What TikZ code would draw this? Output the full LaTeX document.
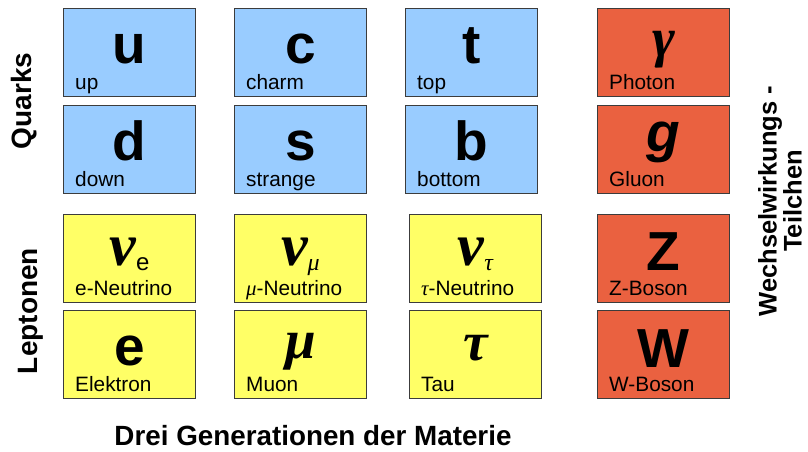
\documentclass[tikz,border=0pt]{standalone}
\usepackage{fontspec}
\setmainfont{Liberation Sans}
\newfontfamily\grfont{Liberation Serif}
\definecolor{quarkblue}{RGB}{153,204,255}
\definecolor{leptonyellow}{RGB}{255,255,102}
\definecolor{bosonred}{RGB}{234,97,64}
\definecolor{boxborder}{RGB}{60,60,60}
\tikzset{
  pbox/.style={draw=boxborder, line width=0.9pt, minimum width=132pt, minimum height=88pt, anchor=north west, inner sep=0pt},
  sym/.style={anchor=base, inner sep=0pt, font=\fontsize{55}{55}\selectfont\bfseries},
  plabel/.style={anchor=base west, inner sep=0pt, font=\fontsize{20.8}{21}\selectfont},
  axislabel/.style={inner sep=0pt, font=\fontsize{28}{30}\selectfont\bfseries}
}
\newcommand\gr[1]{{\grfont\bfseries\itshape #1}}
\newcommand\grsub[1]{{\fontsize{24}{24}\selectfont\raisebox{-5pt}{#1}}}
\newcommand\particlebox[7]{%
  \node[pbox, fill=#4] (#1) at (#2,#3) {};
  \path (#1.north) ++(0,#7) node[sym] (#1sym) {#5};
  \path (#1.north west) ++(12,81) node[plabel] (#1lab) {#6};
}
\begin{document}
\begin{tikzpicture}[x=1pt,y=-1pt]
\useasboundingbox[fill=white] (0,0) rectangle (808,451);
% Quarks
\particlebox{u}{63}{8}{quarkblue}{u}{up}{55}
\particlebox{c}{234}{8}{quarkblue}{c}{charm}{55}
\particlebox{t}{405}{8}{quarkblue}{t}{top}{55}
\particlebox{d}{63}{105}{quarkblue}{d}{down}{55}
\particlebox{s}{234}{105}{quarkblue}{s}{strange}{55}
\particlebox{b}{405}{105}{quarkblue}{b}{bottom}{55}
% Leptons
\particlebox{nue}{63}{214}{leptonyellow}{\gr{\fontsize{60}{60}\selectfont ν}\grsub{\mdseries e}}{e-Neutrino}{51}
\particlebox{num}{234}{214}{leptonyellow}{\gr{\fontsize{60}{60}\selectfont ν}\grsub{\grfont\mdseries\itshape μ}}{{\grfont\itshape μ}-Neutrino}{51}
\particlebox{nut}{409}{214}{leptonyellow}{\gr{\fontsize{60}{60}\selectfont ν}\grsub{\grfont\mdseries\itshape τ}}{{\grfont\itshape τ}-Neutrino}{51}
\particlebox{e}{63}{310}{leptonyellow}{e}{Elektron}{55}
\particlebox{mu}{234}{310}{leptonyellow}{\gr{μ}}{Muon}{48}
\particlebox{tau}{409}{310}{leptonyellow}{\gr{τ}}{Tau}{50}
% Bosons
\particlebox{gamma}{597}{8}{bosonred}{\gr{γ}}{Photon}{48}
\particlebox{g}{597}{105}{bosonred}{\itshape g}{Gluon}{46}
\particlebox{Z}{597}{214}{bosonred}{Z}{Z-Boson}{56}
\particlebox{W}{597}{310}{bosonred}{W}{W-Boson}{57}
% Axis labels
\node[axislabel, rotate=90] (quarks) at (24,101) {Quarks};
\node[axislabel, rotate=90] (leptonen) at (31,311) {Leptonen};
\node[axislabel, rotate=90, align=center, font=\fontsize{25.5}{23.5}\selectfont\bfseries] (ww) at (780,201) {Wechselwirkungs -\\Teilchen};
\node[axislabel, anchor=base, font=\fontsize{27.8}{28}\selectfont\bfseries] (gen) at (313,445) {Drei Generationen der Materie};
\end{tikzpicture}
\end{document}
